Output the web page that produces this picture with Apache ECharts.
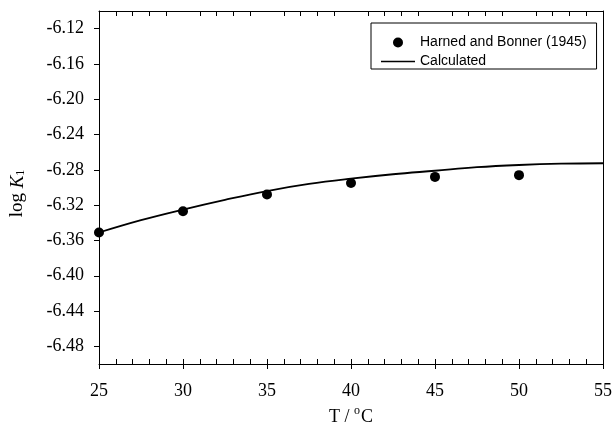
<!DOCTYPE html>
<html>
<head>
<meta charset="utf-8">
<script src="https://cdn.jsdelivr.net/npm/echarts@6/dist/echarts.min.js"></script>
<style>html,body{margin:0;padding:0;background:#fff;}#c{width:615px;height:432px;}</style>
</head>
<body>
<div id="c"></div>
<script>
// Measured data: Harned and Bonner (1945)
const obsT = [25, 30, 35, 40, 45, 50];
const obsLogK = [-6.351, -6.327, -6.308, -6.295, -6.288, -6.286];
// Calculated curve
const calcT = [25, 27.5, 30, 32.5, 35, 37.5, 40, 42.5, 45, 47.5, 50, 52.5, 55];
const calcLogK = [-6.351, -6.337, -6.325, -6.314, -6.304, -6.296, -6.290, -6.285, -6.281, -6.277, -6.2745, -6.273, -6.2725];
// Tick labels
const yTicks = [-6.48, -6.44, -6.40, -6.36, -6.32, -6.28, -6.24, -6.20, -6.16, -6.12];
const xTicks = [25, 30, 35, 40, 45, 50, 55];
const xMinor = [];
for (let t = 25; t <= 55; t++) xMinor.push(t);
const xTopMinor = xMinor.filter(t => t % 5 !== 0);

const serif = 'Liberation Serif';
const sans = 'Liberation Sans';
const chart = echarts.init(document.getElementById('c'), null, {renderer: 'canvas'});
chart.setOption({
  animation: false,
  backgroundColor: '#fff',
  grid: {left: 99, right: 10, top: 11, bottom: 68, containLabel: false},
  legend: {
    data: [
      {name: 'Harned and Bonner (1945)', icon: 'circle'},
      {name: 'Calculated', icon: 'path://M0,0L34,0L34,1.5L0,1.5Z'}
    ],
    orient: 'vertical',
    left: 371, top: 23,
    borderColor: '#000', borderWidth: 1, borderRadius: 0,
    padding: [12, 10, 0, 10],
    itemWidth: 34, itemHeight: 10, itemGap: 4,
    symbolKeepAspect: true,
    textStyle: {fontFamily: sans, fontSize: 14, color: '#000', lineHeight: 15}
  },
  xAxis: [
    {
      type: 'value', min: 25, max: 55, interval: 5, position: 'bottom',
      axisLine: {show: true, lineStyle: {color: '#000', width: 1}},
      axisTick: {show: true, inside: false, length: 5, lineStyle: {color: '#000'}, customValues: xTicks},
      axisLabel: {show: true, customValues: xTicks, color: '#000', fontFamily: serif, fontSize: 18, margin: 18},
      splitLine: {show: false},
      name: 'T / {sup|o}C',
      nameLocation: 'middle', nameGap: 29,
      nameTextStyle: {fontFamily: serif, fontSize: 18, color: '#000',
        rich: {sup: {fontFamily: serif, fontSize: 12, color: '#000', verticalAlign: 'top', lineHeight: 24, padding: [0, 1, 0, 0]}}}
    },
    {
      type: 'value', min: 25, max: 55, interval: 5, position: 'bottom',
      axisLine: {show: false},
      axisTick: {show: true, inside: true, length: 5, lineStyle: {color: '#000'}, customValues: xMinor},
      axisLabel: {show: false},
      splitLine: {show: false}
    },
    {
      type: 'value', min: 25, max: 55, interval: 5, position: 'top',
      axisLine: {show: true, lineStyle: {color: '#000', width: 1}},
      axisTick: {show: true, inside: true, length: 5, lineStyle: {color: '#000'}, customValues: xTopMinor},
      axisLabel: {show: false},
      splitLine: {show: false}
    }
  ],
  yAxis: [
    {
      type: 'value', min: -6.50, max: -6.10, position: 'left',
      axisLine: {show: true, lineStyle: {color: '#000', width: 1}},
      axisTick: {show: true, inside: false, length: 5, lineStyle: {color: '#000'}, customValues: yTicks},
      axisLabel: {show: true, customValues: yTicks, color: '#000', fontFamily: serif, fontSize: 18, margin: 15,
        formatter: v => v.toFixed(2)},
      splitLine: {show: false},
      name: 'log {i|K}{sub|1}',
      nameLocation: 'middle', nameGap: 72, nameRotate: 90,
      nameTextStyle: {fontFamily: serif, fontSize: 19, color: '#000', padding: [0, 12, 0, 0],
        rich: {
          i: {fontFamily: serif, fontStyle: 'italic', fontSize: 19, color: '#000'},
          sub: {fontFamily: serif, fontSize: 12, color: '#000', verticalAlign: 'bottom', lineHeight: 14}
        }}
    },
    {
      type: 'value', min: -6.50, max: -6.10, position: 'right',
      axisLine: {show: true, lineStyle: {color: '#000', width: 1}},
      axisTick: {show: false}, axisLabel: {show: false}, splitLine: {show: false}
    }
  ],
  series: [
    {
      name: 'Harned and Bonner (1945)', type: 'scatter',
      xAxisIndex: 0, yAxisIndex: 0,
      data: obsT.map((t, i) => [t, obsLogK[i]]),
      symbol: 'circle', symbolSize: 10,
      itemStyle: {color: '#000', opacity: 1}, z: 3
    },
    {
      name: 'Calculated', type: 'line',
      xAxisIndex: 0, yAxisIndex: 0,
      data: calcT.map((t, i) => [t, calcLogK[i]]),
      smooth: 0.4, symbol: 'none', showSymbol: false,
      lineStyle: {color: '#000', width: 1.8},
      itemStyle: {color: '#000'}, z: 2
    }
  ]
});
</script>
</body>
</html>
